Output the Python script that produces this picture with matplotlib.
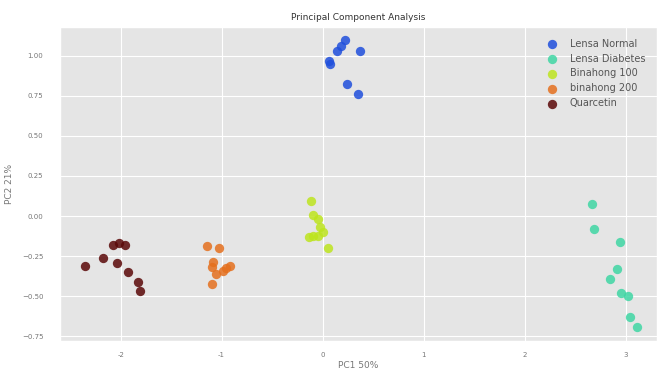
import numpy as np
import matplotlib
matplotlib.use("Agg")
import matplotlib.pyplot as plt

plt.style.use("ggplot")

labels = ["Lensa Normal", "Lensa Diabetes", "Binahong 100", "binahong 200", "Quarcetin"]
colors = ["#1f4fdc", "#3fd6a4", "#bde41e", "#e4701e", "#5a0808"]

normal_x = [0.218, 0.178, 0.139, 0.366, 0.059, 0.069, 0.238, 0.347]
normal_y = [1.100, 1.063, 1.031, 1.031, 0.969, 0.950, 0.825, 0.763]

diabetes_x = [2.663, 2.683, 2.941, 2.911, 2.842, 2.950, 3.020, 3.040, 3.109]
diabetes_y = [0.075, -0.081, -0.163, -0.331, -0.394, -0.481, -0.500, -0.631, -0.694]

bin100_x = [-0.119, -0.099, -0.050, -0.030, 0.000, -0.099, -0.050, -0.139, 0.050]
bin100_y = [0.094, 0.006, -0.019, -0.069, -0.100, -0.125, -0.125, -0.131, -0.200]

bin200_x = [-1.149, -1.030, -1.089, -1.099, -0.921, -0.990, -1.059, -1.099, -0.960]
bin200_y = [-0.188, -0.200, -0.288, -0.319, -0.313, -0.344, -0.363, -0.425, -0.325]

quer_x = [-2.079, -2.020, -1.960, -2.356, -2.178, -2.040, -1.931, -1.832, -1.812]
quer_y = [-0.181, -0.169, -0.181, -0.313, -0.263, -0.294, -0.350, -0.413, -0.469]

groups = [(normal_x, normal_y), (diabetes_x, diabetes_y), (bin100_x, bin100_y),
          (bin200_x, bin200_y), (quer_x, quer_y)]

fig = plt.figure(figsize=(6.6, 3.7), dpi=100)
ax = fig.add_axes([60/660, 1 - 341/370, (657-60)/660, (341-27)/370])

for (gx, gy), lab, c in zip(groups, labels, colors):
    ax.scatter(gx, gy, s=45, color=c, alpha=0.85, linewidths=0, label=lab)

ax.set_xlim(-2.6, 3.31)
ax.set_ylim(-0.78, 1.18)
ax.set_xticks([-2, -1, 0, 1, 2, 3])
ax.set_xticklabels(["-2", "-1", "0", "1", "2", "3"])
ax.set_yticks([-0.75, -0.5, -0.25, 0.0, 0.25, 0.5, 0.75, 1.0])
ax.tick_params(labelsize=5, colors="#777777", length=0)
ax.tick_params(axis="x", pad=8)
ax.tick_params(axis="y", pad=12)
ax.set_title("Principal Component Analysis", fontsize=6.5, color="#333333", pad=5)
ax.set_xlabel("PC1 50%", fontsize=6.5, color="#777777", labelpad=2)
ax.set_ylabel("PC2 21%", fontsize=6.5, color="#777777", labelpad=6)
ax.legend(loc="upper right", frameon=False, fontsize=7, labelcolor="#555555",
          handletextpad=0.8, borderaxespad=0.8)

fig.savefig("out.png", dpi=100)
